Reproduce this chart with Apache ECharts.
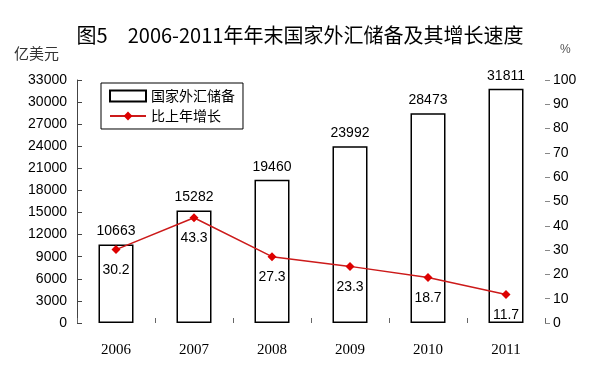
<!DOCTYPE html>
<html><head><meta charset="utf-8">
<script src="https://cdn.jsdelivr.net/npm/echarts@6/dist/echarts.min.js"></script>
<style>html,body{margin:0;padding:0;background:#fff}#c{width:600px;height:369px}</style>
</head><body><div id="c"></div>
<script>
const categories = ['2006','2007','2008','2009','2010','2011'];
const reserves = [10663, 15282, 19460, 23992, 28473, 31811];
const growth = [30.2, 43.3, 27.3, 23.3, 18.7, 11.7];
const leftTicks = {min: 0, max: 33000, interval: 3000};
const rightTicks = {min: 0, max: 100, interval: 10};

const chart = echarts.init(document.getElementById('c'));
chart.setOption({
  backgroundColor: '#fff',
  animation: false,
  title: {
    text: '图5　2006-2011年年末国家外汇储备及其增长速度',
    left: 'center', top: 20,
    textStyle: {fontFamily: 'Noto Sans CJK SC', fontSize: 20, fontWeight: 'normal', color: '#000'}
  },
  graphic: [
    {type: 'text', left: 14, top: 46, style: {text: '亿美元', font: '15px "Noto Sans CJK SC"', fill: '#333'}},
    {type: 'text', left: 560, top: 44, style: {text: '%', font: '12px "Liberation Sans"', fill: '#555'}}
  ],
  legend: {
    orient: 'vertical', left: 101, top: 83,
    padding: [6, 8, 6, 8],
    itemGap: 6, itemWidth: 36, itemHeight: 11,
    borderColor: '#000', borderWidth: 1,
    textStyle: {fontFamily: 'Noto Sans CJK SC', fontSize: 14, color: '#000'},
    data: [
      {name: '国家外汇储备', icon: 'rect'},
      {name: '比上年增长'}
    ]
  },
  grid: {left: 77, right: 55, top: 80, bottom: 46},
  xAxis: {
    type: 'category', data: categories,
    axisLine: {show: false},
    axisTick: {show: true, inside: true, length: 5, lineStyle: {color: '#666'}},
    axisLabel: {fontFamily: 'Liberation Serif', fontSize: 15, color: '#000', margin: 20}
  },
  yAxis: [
    {
      type: 'value', min: leftTicks.min, max: leftTicks.max, interval: leftTicks.interval,
      axisLine: {show: true, lineStyle: {color: '#444'}},
      axisTick: {show: true, inside: true, length: 5, lineStyle: {color: '#444'}},
      splitLine: {show: false},
      axisLabel: {fontFamily: 'Liberation Sans', fontSize: 14, color: '#000', margin: 10,
        formatter: v => String(v)}
    },
    {
      type: 'value', min: rightTicks.min, max: rightTicks.max, interval: rightTicks.interval,
      position: 'right',
      axisLine: {show: false},
      axisTick: {show: true, length: 5, lineStyle: {color: '#888'}},
      splitLine: {show: false},
      axisLabel: {fontFamily: 'Liberation Sans', fontSize: 14, color: '#000', margin: 8,
        formatter: v => String(v)}
    }
  ],
  series: [
    {
      name: '国家外汇储备', type: 'bar', data: reserves, yAxisIndex: 0,
      barWidth: 35,
      itemStyle: {color: '#fff', borderColor: '#000', borderWidth: 1.5},
      label: {show: true, position: 'top', distance: 6, fontFamily: 'Liberation Sans', fontSize: 14, color: '#000',
        formatter: p => String(p.value)}
    },
    {
      name: '比上年增长', type: 'line', data: growth, yAxisIndex: 1,
      symbol: 'diamond', symbolSize: 9,
      lineStyle: {color: '#cc1a1a', width: 1.5},
      itemStyle: {color: '#dd0000'},
      label: {show: true, position: 'bottom', distance: 9, fontFamily: 'Liberation Sans', fontSize: 14, color: '#000'},
      z: 5
    }
  ]
});
</script></body></html>
